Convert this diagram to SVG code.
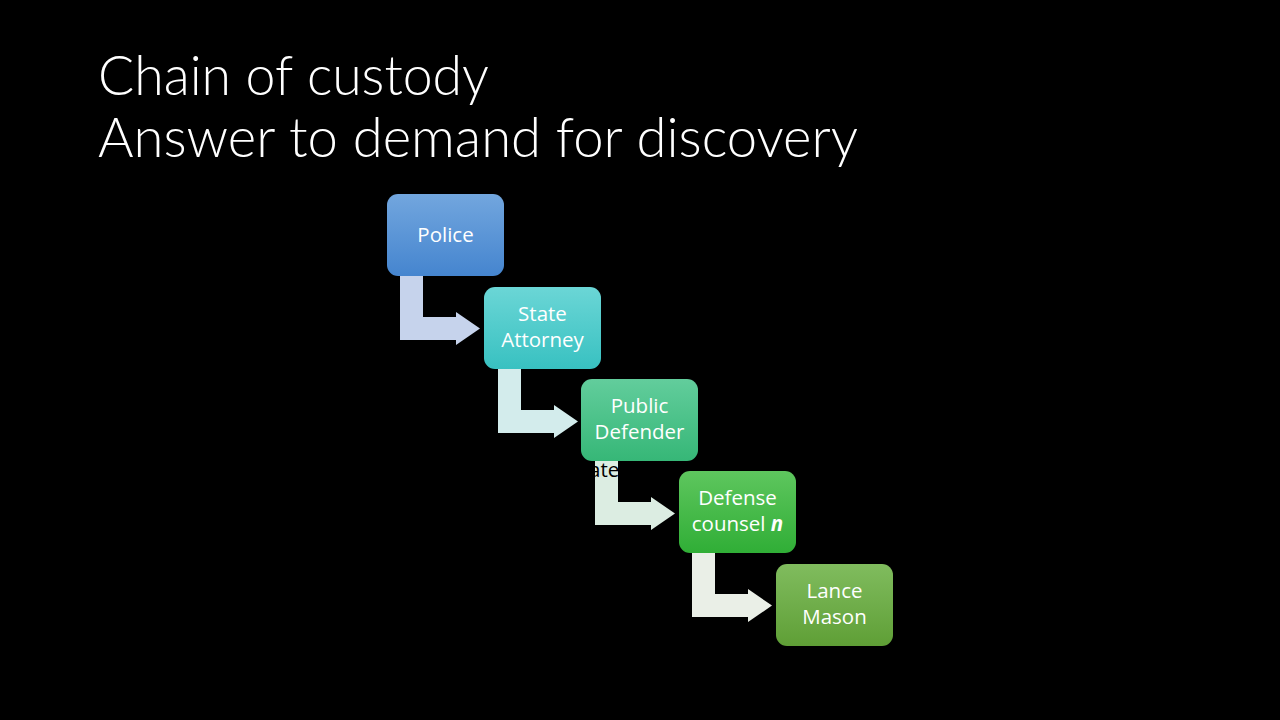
<svg xmlns="http://www.w3.org/2000/svg" width="1280" height="720" viewBox="0 0 1280 720">
  <defs>
    <linearGradient id="gPolice" x1="0" y1="0" x2="0" y2="1">
      <stop offset="0" stop-color="#72a6de"/>
      <stop offset="1" stop-color="#4585cf"/>
    </linearGradient>
    <linearGradient id="gState" x1="0" y1="0" x2="0" y2="1">
      <stop offset="0" stop-color="#6bd6d6"/>
      <stop offset="1" stop-color="#38c1c1"/>
    </linearGradient>
    <linearGradient id="gPublic" x1="0" y1="0" x2="0" y2="1">
      <stop offset="0" stop-color="#62cd9c"/>
      <stop offset="1" stop-color="#36b777"/>
    </linearGradient>
    <linearGradient id="gDefense" x1="0" y1="0" x2="0" y2="1">
      <stop offset="0" stop-color="#5ec65e"/>
      <stop offset="1" stop-color="#30ae36"/>
    </linearGradient>
    <linearGradient id="gLance" x1="0" y1="0" x2="0" y2="1">
      <stop offset="0" stop-color="#80bc5e"/>
      <stop offset="1" stop-color="#5f9f36"/>
    </linearGradient>
    <!-- bent arrow shape, origin at the top-left of the vertical stem -->
    <path id="bend" d="M0,0 L23,0 L23,41 L56,41 L56,36 L80,52.5 L56,69 L56,64 L0,64 Z"/>
  </defs>
  <style>
    .title { font-family: Lato, "Open Sans", "Liberation Sans", sans-serif; font-weight: 300; font-size: 56px; fill: #ffffff; }
    .label { font-family: "Open Sans", "Liberation Sans", sans-serif; font-size: 20.5px; fill: #ffffff; text-anchor: middle; }
    .stray { font-family: "Open Sans", "Liberation Sans", sans-serif; font-size: 20.5px; fill: #000000; }
  </style>

  <rect x="0" y="0" width="1280" height="720" fill="#000000"/>

  <g id="title">
    <text class="title" x="98" y="95" textLength="391" lengthAdjust="spacingAndGlyphs">Chain of custody</text>
    <text class="title" x="98" y="157" textLength="760" lengthAdjust="spacingAndGlyphs">Answer to demand for discovery</text>
  </g>

  <g id="connectors">
    <use href="#bend" x="400" y="276" fill="#c6d3ec"/>
    <use href="#bend" x="498" y="369" fill="#d3ecec"/>
    <use href="#bend" x="595" y="461" fill="#dcede2"/>
    <use href="#bend" x="692" y="553" fill="#eaefe7"/>
  </g>

  <text class="stray" x="589" y="477">ate</text>

  <g id="police">
    <rect x="387" y="194" width="117" height="82" rx="11" fill="url(#gPolice)"/>
    <text class="label" x="445.5" y="242">Police</text>
  </g>

  <g id="state-attorney">
    <rect x="484" y="287" width="117" height="82" rx="11" fill="url(#gState)"/>
    <text class="label" x="542.5" y="321">State</text>
    <text class="label" x="542.5" y="347">Attorney</text>
  </g>

  <g id="public-defender">
    <rect x="581" y="379" width="117" height="82" rx="11" fill="url(#gPublic)"/>
    <text class="label" x="639.5" y="413">Public</text>
    <text class="label" x="639.5" y="439">Defender</text>
  </g>

  <g id="defense-counsel">
    <rect x="679" y="471" width="117" height="82" rx="11" fill="url(#gDefense)"/>
    <text class="label" x="737.5" y="505">Defense</text>
    <text class="label" x="737.5" y="531">counsel <tspan font-weight="bold" font-style="italic">n</tspan></text>
  </g>

  <g id="lance-mason">
    <rect x="776" y="564" width="117" height="82" rx="11" fill="url(#gLance)"/>
    <text class="label" x="834.5" y="598">Lance</text>
    <text class="label" x="834.5" y="624">Mason</text>
  </g>
</svg>
